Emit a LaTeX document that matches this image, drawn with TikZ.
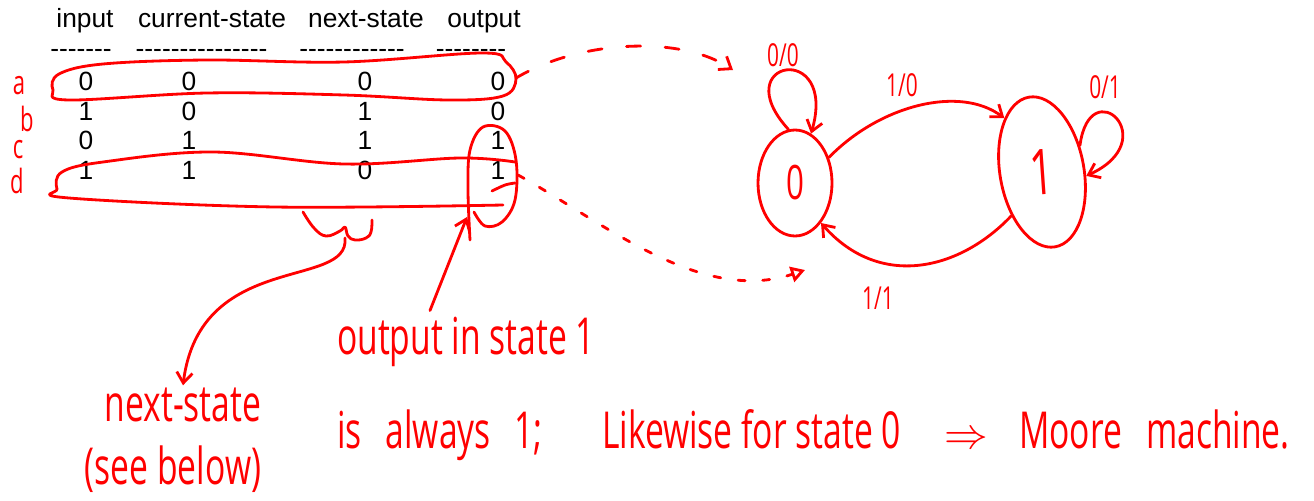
\documentclass[tikz,border=0pt]{standalone}
\usepackage{fontspec}
\newfontfamily\tabfont[Ligatures=TeXOff]{Liberation Sans}
\newfontfamily\hand[FakeStretch=0.66]{Open Sans}
\definecolor{inkred}{RGB}{255,0,0}
\usetikzlibrary{arrows.meta, positioning, shapes.geometric, calc}

\tikzset{
  ink/.style={inkred, line width=1.6pt, line cap=round, line join=round},
  scrawl/.style={inkred, inner sep=1pt, font=\hand\fontsize{29}{32}\selectfont},
  cell/.style={anchor=base, inner sep=0pt, font=\tabfont\fontsize{15}{18}\selectfont},
  state/.style={ellipse, draw, ink, inner sep=0pt},
  barb/.style={-{Straight Barb[length=6pt, width=9pt]}},
}

\begin{document}
\begin{tikzpicture}[x=0.02cm, y=-0.02cm]
  \useasboundingbox (0,0) rectangle (1314,500);

  \foreach \x/\lab [count=\i] in {85/input, 212/current-state, 366/next-state, 484/output}
    \node[cell] (h\i) at (\x,27.5) {\lab};
  \foreach \x/\lab [count=\i] in {81/-------, 201.5/---------------, 352/------------, 471/--------}
    \node[cell] (u\i) at (\x,58) {\lab};
  \foreach \r/\a/\b/\c/\d in {1/0/0/0/0, 2/1/0/1/0, 3/0/1/1/1, 4/1/1/0/1}{
    \node[cell] (v\r1) at (86,60.9+29.6*\r) {\a};
    \node[cell] (v\r2) at (189,60.9+29.6*\r) {\b};
    \node[cell] (v\r3) at (365,60.9+29.6*\r) {\c};
    \node[cell] (v\r4) at (498,60.9+29.6*\r) {\d};
  }

  \foreach \x/\y/\lab in {19/86/a, 27/119/b, 18/150/c, 17/181/d}
    \node[scrawl, inner sep=0pt, font=\hand\fontsize{19}{20}\selectfont] (row\lab) at (\x,\y) {\lab};

  \draw[ink] plot[smooth cycle, tension=0.6] coordinates {(482,53) (344,62) (207,60) (103,64) (59,74) (53,90)
    (69,100) (207,93) (344,95) (448,100) (503,96) (516,79) (506,62)};
  \draw[ink] plot[smooth, tension=0.6] coordinates {(515,162) (460,158) (344,164) (213,152) (103,162) (62,172)
    (57,189) (69,198) (275,207) (503,205)};
  \draw[ink] plot[smooth, tension=0.6] coordinates {(470,240) (468,190) (470,150) (483,127) (505,131) (516,160)
    (515,200) (502,222) (485,226) (474,212)};
  \draw[ink] plot[smooth] coordinates {(492,191) (505,185) (515,183)};
  \draw[ink] plot[smooth, tension=0.7] coordinates {(303,212) (314,228) (326,236) (340,231) (345,227)
    (348,236) (355,240) (366,238) (371,232) (372,220)};

  \node[state, minimum width=1.48cm, minimum height=2.12cm, font=\hand\fontsize{27}{28}\selectfont] (s0) at (795,183) {0};
  \node[state, minimum width=1.68cm, minimum height=3.04cm, rotate=10, font=\hand\fontsize{36}{38}\selectfont] (s1) at (1042,172) {\rotatebox{-6}{1}};

  \draw[ink, barb] (s0.97) .. controls (725,60) and (838,40) .. (s0.72);
  \draw[ink, barb] (s0.37) .. controls (880,105) and (960,85) .. (s1.115);
  \draw[ink, barb] (s1.25) .. controls (1090,70) and (1165,140) .. (s1.345);
  \draw[ink, barb] (s1.225) .. controls (960,270) and (880,290) .. (s0.303);
  \foreach \x/\y/\lab [count=\i] in {783/55/0\slash 0, 902/85/1\slash 0, 1105/87/0\slash 1, 878/298/1\slash 1}
    \node[scrawl, font=\hand\fontsize{18}{20}\selectfont] (t\i) at (\x,\y) {\lab};

  \coordinate (afrom) at (516,78);
  \coordinate (ato) at (733,70);
  \coordinate (dfrom) at (518,175);
  \coordinate (dto) at (805,270);
  \draw[ink, dash pattern=on 8pt off 14pt, barb] (afrom) .. controls (580,40) and (680,35) .. (ato);
  \draw[ink, dash pattern=on 4pt off 10pt, -{Triangle[open, length=8pt, width=9pt]}]
    (dfrom) .. controls (600,220) and (700,305) .. (dto);

  \node[scrawl, anchor=base] (ns) at (183,421) {next-state};
  \node[scrawl, anchor=base] (sb) at (173,484) {(see below)};
  \coordinate (brace) at (345,238);
  \draw[ink, barb] (brace) .. controls (350,290) and (200,250) .. (ns.north);

  \node[scrawl, anchor=base west] (out1) at (335,354) {output in state 1};
  \coordinate (oloop) at (467,217);
  \draw[ink, barb] (out1.north west) ++(95,-4) -- (oloop);

  \node[scrawl, anchor=base west] (l2a) at (335,448) {is\hspace{0.3em} always\hspace{0.3em} 1;};
  \node[scrawl, anchor=base west] (l2b) at (600,448) {Likewise for state 0};
  \node[scrawl, anchor=base west] (l2c) at (942,448) {$\Rightarrow$};
  \node[scrawl, anchor=base west] (l2d) at (1017,448) {Moore\hspace{0.3em} machine.};
\end{tikzpicture}
\end{document}
